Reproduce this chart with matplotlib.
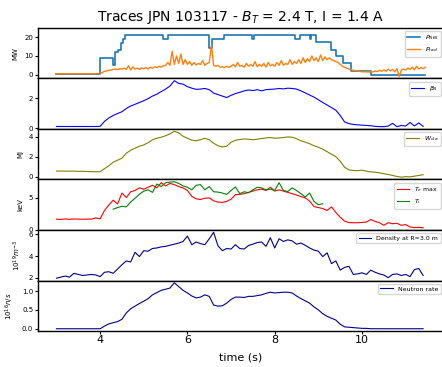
import matplotlib
matplotlib.use("Agg")
import matplotlib.pyplot as plt
import numpy as np

# NBI power, stepwise (breakpoints)
nbi_t = [3.0, 4.0, 4.3, 4.33, 4.4, 4.47, 4.53, 4.58, 5.43, 5.55, 6.49, 6.57, 6.83,
         7.48, 7.52, 8.46, 8.58, 8.8, 8.84, 8.95, 9.3, 9.41, 9.56, 9.75, 10.2, 11.44]
nbi_v = [0.4, 9, 5, 12, 13, 17, 19, 21.4, 19, 21.4, 14, 19, 21.4,
         19, 21.4, 19, 21.4, 19, 21.4, 17.5, 13, 10, 6, 2, 0, 0]

# radiated power, sampled every 0.05 s from 3.0 s
t_rad = np.arange(170) * 0.05 + 3.0
p_rad = [0.5] * 20 + [
    0.6, 1.2, 1.8, 2.0, 2.3, 2.5, 2.8, 3.0, 2.7, 3.2,
    3.0, 3.5, 2.8, 4.8, 2.5, 4.2, 3.0, 3.5, 2.8, 3.6,
    3.2, 3.8, 3.0, 4.0, 3.4, 4.2, 3.8, 4.5, 4.0, 4.8,
    5.0, 6.5, 5.0, 12.5, 5.5, 10.0, 6.0, 11.0, 5.5, 8.0,
    5.5, 7.0, 5.0, 6.5, 5.2, 6.0, 5.5, 7.5, 5.0, 6.0,
    6.5, 15.8, 5.0, 4.5, 5.0, 4.0, 4.2, 3.8, 4.5, 3.8,
    4.5, 5.5, 4.2, 6.5, 4.5, 5.0, 4.0, 6.0, 4.5, 5.5,
    4.5, 7.0, 4.2, 5.5, 4.5, 6.0, 4.0, 6.5, 4.8, 5.5,
    4.5, 6.5, 5.0, 7.5, 5.0, 6.0, 5.5, 8.0, 5.5, 7.0,
    6.0, 8.0, 6.0, 9.0, 6.5, 8.5, 7.0, 10.0, 7.5, 9.0,
    7.0, 10.5, 7.5, 9.5, 8.0, 9.0, 8.0, 7.5, 7.0, 6.5,
    5.5, 4.5, 4.0, 3.5, 3.0, 2.6, 2.3, 2.1, 1.9, 1.8,
    1.6, 1.5, 1.5, 1.4, 1.6, 1.5, 2.0, 1.6, 2.4, 1.8,
    2.5, 1.8, 3.0, 2.0, 2.8, 1.5, 3.2, -1.0, 2.5, 3.0,
    2.5, 3.5, 2.8, 4.0, 2.6, 4.5, 3.0, 3.8, 3.2, 4.0]

# other traces, sampled every 0.1 s from 3.0 s to 11.4 s
t = np.arange(85) * 0.1 + 3.0
beta_n = [0.11] * 10 + [
    0.12, 0.45, 0.68, 0.85, 0.98, 1.1, 1.32, 1.48, 1.6, 1.72,
    1.84, 1.98, 2.15, 2.28, 2.45, 2.62, 2.82, 3.18, 3.0, 2.95,
    2.78, 2.68, 2.6, 2.62, 2.66, 2.58, 2.35, 2.25, 2.15, 2.05,
    2.2, 2.32, 2.4, 2.5, 2.56, 2.52, 2.58, 2.5, 2.58, 2.6,
    2.62, 2.66, 2.63, 2.68, 2.66, 2.62, 2.5, 2.36, 2.22, 2.08,
    1.9, 1.72, 1.55, 1.38, 1.2, 0.85, 0.42, 0.3, 0.25, 0.22,
    0.2, 0.18, 0.16, 0.12, 0.1, 0.1, 0.14, 0.32, 0.1, 0.18,
    0.14, 0.38, 0.15, 0.35, 0.12]
w_dia = [
    0.56, 0.56, 0.55, 0.56, 0.55, 0.54, 0.53, 0.52, 0.5, 0.49,
    0.49, 0.8, 1.1, 1.45, 1.65, 1.85, 2.35, 2.65, 2.85, 3.05,
    3.18, 3.4, 3.7, 3.85, 3.95, 4.1, 4.28, 4.55, 4.38, 4.05,
    3.85, 3.65, 3.6, 3.7, 3.85, 3.7, 3.35, 3.1, 2.98, 3.05,
    3.45, 3.65, 3.72, 3.78, 3.75, 3.7, 3.75, 3.82, 3.88, 3.92,
    3.85, 3.88, 3.92, 3.98, 3.95, 3.8, 3.6, 3.45, 3.3, 3.1,
    2.95, 2.75, 2.5, 2.25, 2.0, 1.55, 0.95, 0.68, 0.62, 0.6,
    0.65, 0.55, 0.48, 0.45, 0.38, 0.3, 0.22, 0.12, 0.02, -0.05,
    0.0, -0.02, 0.05, 0.12, 0.2]
te_max = [
    1.65, 1.6, 1.7, 1.62, 1.68, 1.66, 1.64, 1.66, 1.65, 1.85,
    1.7, 3.0, 3.85, 4.6, 4.0, 5.7, 5.0, 5.9, 6.1, 6.5,
    6.3, 6.6, 6.9, 6.5, 7.3, 6.8, 7.2, 7.0, 6.7, 6.5,
    6.1, 5.2, 4.8, 4.7, 4.9, 4.95, 4.5, 4.3, 4.25, 4.4,
    4.75, 5.45, 5.5, 5.6, 5.8, 6.0, 6.2, 6.3, 6.1, 6.6,
    6.0, 6.2, 6.0, 5.8, 5.6, 5.4, 5.15, 4.95, 4.45, 3.6,
    3.45, 3.3, 3.0, 3.55, 2.7, 1.95, 1.35, 1.12, 1.1, 1.1,
    1.15, 1.2, 1.6, 1.3, 1.1, 0.7, 1.1, 0.95, 1.0, 0.7,
    0.8, 0.45, 0.35, 0.38, 0.33]
t_ti = np.arange(49) * 0.1 + 4.3
ti = [
    3.2, 3.45, 3.65, 3.55, 4.3, 4.9, 5.5,
    6.0, 6.2, 5.8, 7.1, 6.7, 7.3, 7.4, 7.45, 7.2, 6.8,
    6.6, 6.2, 6.9, 7.0, 6.2, 6.7, 5.9, 5.85, 5.7, 5.5,
    6.1, 6.65, 5.6, 5.9, 5.75, 6.2, 6.6, 6.5, 6.2, 6.3,
    6.1, 7.3, 6.1, 5.95, 6.5, 6.1, 5.6, 5.1, 5.7, 4.4,
    3.9, 4.05]
density = [
    1.95, 2.05, 2.15, 2.05, 2.4, 2.3, 2.2, 2.25, 2.3, 2.25,
    2.1, 2.5, 2.55, 2.4, 2.8, 3.2, 3.55, 3.45, 4.35, 3.95,
    4.5, 4.45, 4.7, 4.75, 4.85, 4.9, 5.0, 5.1, 5.2, 5.35,
    5.85, 5.05, 5.3, 5.15, 5.05, 5.6, 6.2, 4.95, 4.5, 4.7,
    4.65, 5.05, 4.7, 4.65, 4.98, 5.1, 5.25, 5.3, 4.9, 5.7,
    4.75, 5.6, 5.35, 5.5, 5.4, 5.1, 5.2, 5.0, 4.75, 4.55,
    4.45, 3.95, 4.3, 3.3, 3.55, 2.7, 2.95, 3.05, 2.3, 2.35,
    2.45, 2.3, 2.7, 2.5, 2.35, 2.25, 2.0, 2.3, 2.35, 2.2,
    2.3, 2.1, 2.75, 2.85, 2.2]
neutron = [0.0] * 10 + [
    0.0, 0.07, 0.13, 0.16, 0.19, 0.25, 0.42, 0.53, 0.6, 0.67,
    0.73, 0.8, 0.9, 0.96, 1.02, 1.05, 1.08, 1.22, 1.12, 1.02,
    0.95, 0.87, 0.82, 0.84, 0.9, 0.86, 0.63, 0.6, 0.61, 0.68,
    0.78, 0.84, 0.84, 0.83, 0.86, 0.86, 0.88, 0.9, 0.94, 0.97,
    0.95, 0.96, 0.97, 0.97, 0.95, 0.87, 0.8, 0.74, 0.68, 0.58,
    0.5, 0.4, 0.33, 0.28, 0.23, 0.12, 0.05, 0.04, 0.03, 0.02,
    0.01, 0.01, 0.0, 0.0, 0.0, 0.0, 0.0, 0.0, 0.0, 0.0,
    0.0, 0.0, 0.0, 0.0, 0.0]

fig, axs = plt.subplots(6, 1, sharex=True, figsize=(4.42, 3.67), dpi=100)
fig.subplots_adjust(left=0.086, right=1.004, top=0.924, bottom=0.098, hspace=0)

ax = axs[0]
ax.plot(nbi_t, nbi_v, drawstyle='steps-post', color='tab:blue', lw=1.2, label='$P_{NBI}$')
ax.plot(t_rad, p_rad, color='tab:orange', lw=1.0, label='$P_{rad}$')
ax.set_ylim(-2, 25)
ax.set_yticks([0, 10, 20])
ax.set_ylabel('MW')
ax.set_title('Traces JPN 103117 - $B_T$ = 2.4 T, I = 1.4 A', fontsize=10, pad=5)

ax = axs[1]
ax.plot(t, beta_n, color='blue', lw=0.8, label=r'$\beta_N$')
ax.set_yticks([0, 2])

ax = axs[2]
ax.plot(t, w_dia, color='olive', lw=0.8, label='$W_{dia}$')
ax.set_yticks([0, 2, 4])
ax.set_ylabel('MJ')

ax = axs[3]
ax.plot(t, te_max, color='red', lw=0.8, label='$T_e$ max')
ax.plot(t_ti, ti, color='green', lw=0.8, label='$T_i$')
ax.set_yticks([0, 5])
ax.set_ylabel('keV')

ax = axs[4]
ax.plot(t, density, color='darkblue', lw=0.8, label='Density at R=3.0 m')
ax.set_yticks([2, 4, 6])
ax.set_ylabel('$10^{19} m^{-3}$')

ax = axs[5]
ax.plot(t, neutron, color='darkblue', lw=0.8, label='Neutron rate')
ax.set_yticks([0.0, 0.5, 1.0])
ax.set_ylabel('$10^{16} n/s$')
ax.set_xticks([4, 6, 8, 10])
ax.tick_params(axis='x', labelsize=8, length=2, pad=0.5)
ax.set_xlabel('time (s)', fontsize=8, labelpad=6)

for ax in axs:
    ax.tick_params(axis='y', labelsize=5, length=2, pad=1.5)
    ax.yaxis.label.set_size(5)
    ax.legend(loc='upper right', fontsize=4.5)
    for s in ax.spines.values():
        s.set_linewidth(1.0)
for ax in axs[:-1]:
    ax.tick_params(axis='x', length=0)

fig.savefig('out.png', dpi=100)
